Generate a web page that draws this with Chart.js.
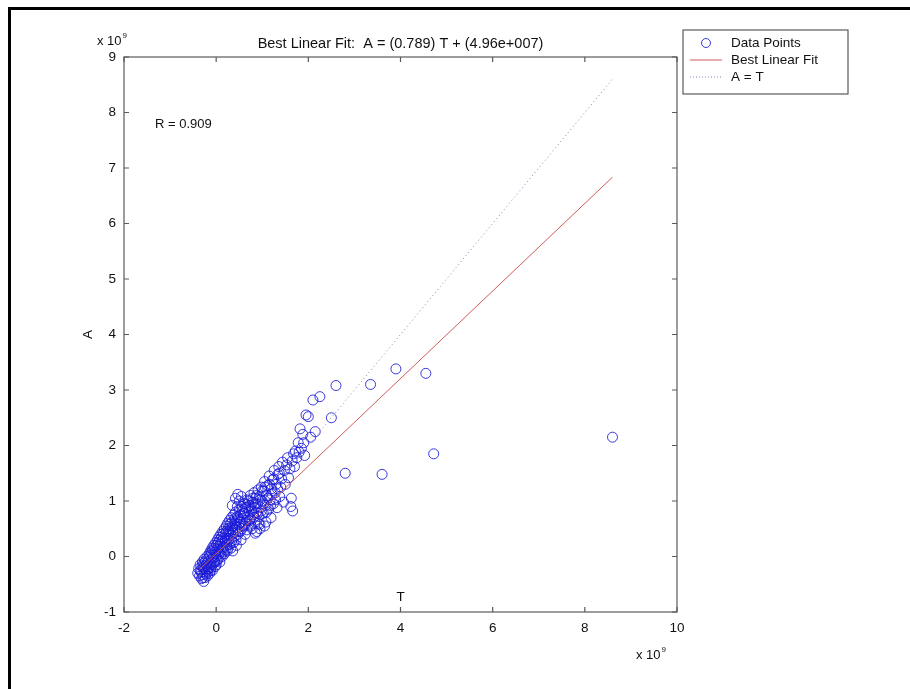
<!DOCTYPE html>
<html>
<head>
<meta charset="utf-8">
<script src="https://cdn.jsdelivr.net/npm/chart.js@4"></script>
<style>
  html, body { margin: 0; padding: 0; background: #fff; }
  #wrap { position: relative; width: 910px; height: 689px; }
</style>
</head>
<body>
<div id="wrap"><canvas id="fitChart" width="910" height="689"></canvas></div>
<script>
// values in units of 1e9 (axes show "x 10^9")
const tValues = [
  -0.40,-0.38,-0.36,-0.35,-0.33,-0.32,-0.30,-0.30,-0.28,-0.27,-0.26,-0.25,-0.24,-0.22,-0.21,-0.20,-0.19,-0.18,
  -0.17,-0.15,-0.14,-0.13,-0.12,-0.11,-0.10,-0.09,-0.08,-0.07,-0.06,-0.05,-0.04,-0.03,-0.02,-0.01,0.00,0.00,
  0.02,0.03,0.04,0.05,0.06,0.07,0.08,0.09,0.10,0.11,0.12,0.13,0.14,0.15,0.16,0.17,0.18,0.19,0.20,0.21,0.22,
  0.23,0.24,0.25,0.26,0.27,0.28,0.29,0.30,0.31,0.32,0.33,0.34,0.35,0.36,0.37,0.38,0.39,0.40,0.41,0.42,0.43,
  0.44,0.45,0.46,0.47,0.48,0.49,0.50,
  0.52,0.53,0.54,0.55,0.56,0.57,0.58,0.60,0.61,0.62,0.63,0.64,0.66,0.67,0.68,0.70,0.71,0.72,0.74,0.75,0.76,
  0.78,0.79,0.80,0.82,0.83,0.84,0.86,0.87,0.88,0.90,0.91,0.93,0.94,0.95,0.97,0.98,1.00,
  1.02,1.04,1.05,1.07,1.08,1.10,1.12,1.14,1.15,1.17,1.19,1.20,1.22,1.24,1.26,1.28,1.30,1.32,1.34,1.36,1.38,
  1.40,1.42,1.44,1.46,1.48,1.50,1.53,1.55,1.57,1.60,1.62,1.63,1.65,1.66,1.68,1.70,1.72,1.75,1.78,1.80,1.82,
  1.85,1.88,1.90,1.92,1.95,2.00,2.05,2.10,2.15,2.25,
  -0.34,-0.31,-0.29,-0.27,-0.25,-0.23,-0.22,-0.20,-0.18,-0.16,-0.15,-0.13,-0.12,-0.10,-0.09,-0.07,-0.06,-0.04,
  -0.03,-0.01,0.01,0.02,0.04,0.06,0.08,0.10,0.12,0.14,0.16,0.18,0.20,0.22,0.24,0.26,0.28,0.30,0.32,0.34,0.36,
  0.38,0.40,0.42,0.44,0.46,0.48,0.50,0.52,0.54,0.56,0.58,0.60,0.62,0.64,0.66,0.68,0.70,0.72,0.74,0.76,0.78,
  0.80,0.82,0.85,0.88,0.90,0.92,0.95,0.98,1.00,1.03,1.06,1.09,1.12,1.16,1.18,1.21,1.25,1.29,1.33,1.37,
  0.42,0.47,0.35,0.85,0.95,1.05,
  2.50,2.60,3.35,3.90,4.55,2.80,3.60,4.72,8.60
];
const aValues = [
  -0.30,-0.22,-0.35,-0.15,-0.28,-0.40,-0.10,-0.33,-0.20,-0.45,-0.05,-0.30,-0.38,-0.15,-0.25,0.00,-0.35,-0.10,
  -0.22,0.05,-0.30,-0.12,0.10,-0.20,-0.05,0.15,-0.25,0.02,-0.12,0.20,-0.08,0.08,-0.18,0.25,0.00,-0.15,
  0.12,0.30,-0.05,0.18,0.35,0.05,-0.10,0.22,0.40,0.10,0.28,0.00,0.45,0.18,0.33,0.08,0.50,0.25,0.12,0.40,0.55,
  0.20,0.32,0.60,0.15,0.45,0.30,0.65,0.22,0.50,0.38,0.70,0.28,0.55,0.10,0.42,0.75,0.35,0.60,0.48,0.80,0.30,
  0.65,0.52,0.90,0.40,0.70,0.58,1.00,
  0.45,0.75,0.62,1.08,0.50,0.82,0.68,0.95,0.55,0.78,0.40,0.88,0.65,1.02,0.72,0.58,0.92,0.80,1.10,0.68,0.86,
  0.50,0.98,0.75,1.15,0.88,0.62,1.05,0.80,0.45,0.95,1.20,0.72,1.08,0.58,0.88,1.25,1.00,
  0.78,1.18,1.35,0.92,0.62,1.10,1.28,0.85,1.45,1.02,0.70,1.22,1.38,0.95,1.55,1.15,1.30,0.88,1.48,1.62,1.08,
  1.25,1.40,1.70,0.98,1.55,1.30,1.65,1.78,1.42,1.58,0.90,1.05,1.72,0.82,1.85,1.62,1.90,1.78,2.05,1.88,2.30,
  1.95,2.20,2.05,1.82,2.55,2.52,2.15,2.82,2.25,2.88,
  -0.25,-0.18,-0.38,-0.12,-0.22,-0.08,-0.32,-0.18,-0.28,-0.02,-0.18,0.02,-0.25,0.08,-0.15,0.12,-0.02,0.15,
  -0.10,0.05,0.20,-0.08,0.25,0.10,0.30,0.02,0.35,0.15,0.42,0.05,0.30,0.45,0.10,0.50,0.40,0.58,0.15,0.62,0.48,
  0.25,0.68,0.55,0.20,0.72,0.45,0.85,0.62,0.30,0.90,0.55,0.78,0.95,0.60,0.48,0.88,1.00,0.65,0.92,0.55,0.82,
  1.05,0.70,0.95,1.10,0.78,0.60,1.02,0.82,1.18,0.95,1.25,0.80,1.05,1.30,0.92,1.12,1.40,1.02,1.22,1.50,
  1.05,1.12,0.92,0.42,0.50,0.55,
  2.50,3.08,3.10,3.38,3.30,1.50,1.48,1.85,2.15
];
// line endpoints (min T / max T)
const lineT = [-0.35, 8.60];
const fitA = [-0.226, 6.835];
const identA = [-0.35, 8.60];

const xTicks = [-2, 0, 2, 4, 6, 8, 10];
const yTicks = [-1, 0, 1, 2, 3, 4, 5, 6, 7, 8, 9];

const titleText = 'Best Linear Fit:  A = (0.789) T + (4.96e+007)';
const rText = 'R = 0.909';
const legendLabels = ['Data Points', 'Best Linear Fit', 'A = T'];

const FONT = '"Liberation Sans", Arial, Helvetica, sans-serif';
const pointColor = 'rgba(25,25,215,0.85)';
const fitColor = '#d05a5a';
const identColor = '#7a86b8';
const axisColor = '#5a5a5a';

const pts = tValues.map((t, i) => ({ x: t, y: aValues[i] }));
const fitPts = lineT.map((t, i) => ({ x: t, y: fitA[i] }));
const identPts = lineT.map((t, i) => ({ x: t, y: identA[i] }));

function drawX10(ctx, x, y) {
  ctx.font = '13px ' + FONT;
  ctx.textAlign = 'left';
  ctx.textBaseline = 'alphabetic';
  ctx.fillText('x 10', x, y);
  const w = ctx.measureText('x 10').width;
  ctx.font = '8px ' + FONT;
  ctx.fillText('9', x + w + 1, y - 7);
}

const decor = {
  id: 'decor',
  afterDatasetsDraw(chart) {
    const ctx = chart.ctx;
    const a = chart.chartArea;
    const xs = chart.scales.x, ys = chart.scales.y;
    ctx.save();
    // axes box with inward ticks
    ctx.strokeStyle = axisColor;
    ctx.lineWidth = 1.2;
    ctx.strokeRect(a.left, a.top, a.right - a.left, a.bottom - a.top);
    ctx.beginPath();
    xTicks.forEach(v => {
      const px = xs.getPixelForValue(v);
      ctx.moveTo(px, a.bottom); ctx.lineTo(px, a.bottom - 5);
      ctx.moveTo(px, a.top); ctx.lineTo(px, a.top + 5);
    });
    yTicks.forEach(v => {
      const py = ys.getPixelForValue(v);
      ctx.moveTo(a.left, py); ctx.lineTo(a.left + 5, py);
      ctx.moveTo(a.right, py); ctx.lineTo(a.right - 5, py);
    });
    ctx.stroke();

    ctx.fillStyle = '#111';
    // exponent labels
    drawX10(ctx, a.left - 27, a.top - 12);
    drawX10(ctx, a.right - 41, a.bottom + 47);
    // R value
    ctx.font = '13px ' + FONT;
    ctx.textAlign = 'left';
    ctx.textBaseline = 'middle';
    ctx.fillText(rText, a.left + 31, 124);

    // legend box
    const lx = a.right + 6, ly = 30, lw = 165, lh = 64;
    ctx.fillStyle = '#fff';
    ctx.fillRect(lx, ly, lw, lh);
    ctx.strokeStyle = axisColor;
    ctx.lineWidth = 1.2;
    ctx.strokeRect(lx, ly, lw, lh);
    const rowY = [ly + 13, ly + 30, ly + 47];
    // circle
    ctx.strokeStyle = pointColor;
    ctx.lineWidth = 1;
    ctx.beginPath();
    ctx.arc(lx + 23, rowY[0], 4.5, 0, Math.PI * 2);
    ctx.stroke();
    // fit line
    ctx.strokeStyle = fitColor;
    ctx.beginPath();
    ctx.moveTo(lx + 7, rowY[1]); ctx.lineTo(lx + 39, rowY[1]);
    ctx.stroke();
    // dotted
    ctx.strokeStyle = identColor;
    ctx.setLineDash([1, 2]);
    ctx.beginPath();
    ctx.moveTo(lx + 7, rowY[2]); ctx.lineTo(lx + 39, rowY[2]);
    ctx.stroke();
    ctx.setLineDash([]);
    ctx.fillStyle = '#111';
    ctx.font = '13.5px ' + FONT;
    legendLabels.forEach((s, i) => ctx.fillText(s, lx + 48, rowY[i]));

    // outer frame (left and top edges of the figure)
    ctx.fillStyle = '#000';
    ctx.fillRect(8, 7, 910 - 8, 3);
    ctx.fillRect(8, 7, 3, 689 - 7);
    ctx.restore();
  }
};

new Chart(document.getElementById('fitChart'), {
  type: 'scatter',
  data: {
    datasets: [
      {
        label: legendLabels[1],
        type: 'line',
        data: fitPts,
        borderColor: fitColor,
        borderWidth: 1,
        pointRadius: 0,
        fill: false,
        order: 0
      },
      {
        label: legendLabels[2],
        type: 'line',
        data: identPts,
        borderColor: identColor,
        borderWidth: 1,
        borderDash: [1, 3],
        pointRadius: 0,
        fill: false,
        order: 0
      },
      {
        label: legendLabels[0],
        data: pts,
        pointStyle: 'circle',
        pointRadius: 5,
        borderWidth: 1,
        borderColor: pointColor,
        backgroundColor: 'rgba(0,0,0,0)',
        order: 1
      }
    ]
  },
  options: {
    responsive: false,
    animation: false,
    layout: { padding: { left: 0, right: 233, top: 0, bottom: 0 } },
    plugins: {
      legend: { display: false },
      tooltip: { enabled: false },
      title: {
        display: true,
        text: titleText,
        fullSize: false,
        color: '#111',
        font: { family: FONT, size: 14.5, weight: 'normal' },
        padding: { top: 35, bottom: 4.6 }
      }
    },
    scales: {
      x: {
        type: 'linear',
        min: -2, max: 10,
        afterBuildTicks: s => { s.ticks = xTicks.map(v => ({ value: v })); },
        afterFit: s => { s.height = 77; },
        grid: { display: false, drawTicks: false },
        border: { display: false },
        ticks: { color: '#111', font: { family: FONT, size: 13.5 }, padding: 8, maxRotation: 0 },
        title: { display: true, text: 'T', color: '#111', font: { family: FONT, size: 13.5 }, padding: { bottom: 84 } }
      },
      y: {
        type: 'linear',
        min: -1, max: 9,
        afterBuildTicks: s => { s.ticks = yTicks.map(v => ({ value: v })); },
        afterFit: s => { s.width = 124; },
        grid: { display: false, drawTicks: false },
        border: { display: false },
        ticks: { color: '#111', font: { family: FONT, size: 13.5 }, padding: 8 },
        title: { display: true, text: 'A', color: '#111', font: { family: FONT, size: 13.5 }, padding: { top: 80 } }
      }
    }
  },
  plugins: [decor]
});
</script>
</body>
</html>
